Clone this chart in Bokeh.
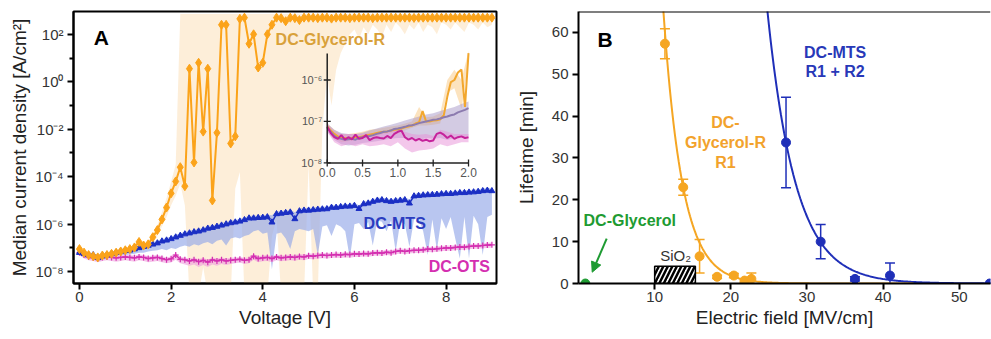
import numpy as np
from bokeh.plotting import figure
from bokeh.layouts import row
from bokeh.models import (Range1d, FixedTicker, CustomJSTickFormatter, LinearScale, LogScale,
                          Whisker, ColumnDataSource, Arrow, NormalHead, Span, TeeHead)
from bokeh.core.properties import value
from bokeh.embed import file_html
from bokeh.resources import INLINE

FONT = "Liberation Sans"

# ---------------- Panel A: log10 of median current density [A/cm^2] vs voltage -------------
voltage = np.round(np.linspace(0.0, 9.0, 91), 2)

glyc_med = [-7.05, -7.2, -7.3, -7.35, -7.4, -7.32, -7.3, -7.25, -7.2, -7.15, -7.1,
            -7.05, -6.98, -6.75, -6.9, -6.85, -6.55, -6.25, -5.8, -5.3, -4.7,
            -4.2, -3.6, -4.4, 0.55, -3.4, 0.8, -2.1, 0.55, -5.0, -2.15,
            2.4, 2.4, -2.6, -2.3, 2.65, 2.7, 1.6, 2.0, 0.6, 0.8,
            2.0, 2.4, 2.7, 2.68, 2.55, 2.7, 2.68, 2.6, 2.7, 2.7,
            2.7, 2.68, 2.7, 2.7, 2.66, 2.7, 2.7, 2.7, 2.68, 2.7,
            2.7, 2.7, 2.7, 2.68, 2.7, 2.7, 2.7, 2.7, 2.7, 2.7,
            2.7, 2.7, 2.69, 2.7, 2.7, 2.7, 2.7, 2.7, 2.7, 2.7,
            2.7, 2.7, 2.7, 2.7, 2.7, 2.7, 2.7, 2.7, 2.7, 2.7]
glyc_hi = [-6.95, -7.1, -7.2, -7.25, -7.3, -7.22, -7.2, -7.15, -7.1, -7.05, -7.0,
           -6.95, -6.88, -6.6, -6.78, -6.7, -6.4, -6.05, -5.5, -4.9, -4.2,
           -3.5, 2.85, 2.85, 2.85, 2.85, 2.85, 2.85, 2.85, 2.85, 2.85,
           2.85, 2.85, 2.85, 2.85, 2.85, 2.85, 2.85, 2.85, 2.85, 2.85,
           2.85, 2.85, 2.85, 2.85, 2.85, 2.85, 2.85, 2.85, 2.85, 2.85,
           2.85, 2.85, 2.85, 2.85, 2.85, 2.85, 2.85, 2.85, 2.85, 2.85,
           2.85, 2.85, 2.85, 2.85, 2.85, 2.85, 2.85, 2.85, 2.85, 2.85,
           2.85, 2.85, 2.85, 2.85, 2.85, 2.85, 2.85, 2.85, 2.85, 2.85,
           2.85, 2.85, 2.85, 2.85, 2.85, 2.85, 2.85, 2.85, 2.85, 2.85]
glyc_lo = [-7.15, -7.3, -7.4, -7.45, -7.5, -7.42, -7.4, -7.35, -7.3, -7.25, -7.2,
           -7.15, -7.08, -6.95, -7.02, -7.0, -6.8, -6.5, -6.1, -5.7, -5.2,
           -4.8, -4.3, -5.2, -9.0, -9.0, -9.0, -7.8, -9.0, -9.0, -9.0,
           -9.0, -9.0, -9.0, -4.5, -3.8, -9.0, -9.0, -9.0, -9.0, -9.0,
           -9.0, -6.5, -5.8, -9.0, -9.0, -9.0, -9.0, -9.0, -9.0, -3.5,
           -9.0, -9.0, -2.0, 0.3, -1.0, 0.5, 1.2, 1.6, 2.0, 2.2,
           1.8, 2.3, 2.0, 2.4, 2.2, 1.9, 2.4, 2.1, 2.5, 2.3,
           2.0, 2.4, 2.2, 2.5, 2.1, 2.4, 2.3, 2.0, 2.5, 2.4,
           2.2, 2.5, 2.3, 2.1, 2.5, 2.4, 2.2, 2.5, 2.3, 2.4]

mts_med = [-7.2, -7.25, -7.3, -7.3, -7.42, -7.35, -7.3, -7.25, -7.2, -7.15, -7.12,
           -7.1, -7.05, -7.0, -6.95, -6.9, -6.85, -6.8, -6.72, -6.68, -6.62,
           -6.55, -6.48, -6.42, -6.38, -6.33, -6.3, -6.25, -6.18, -6.15, -6.1,
           -6.05, -6.0, -5.95, -5.92, -5.88, -5.82, -5.75, -5.75, -5.73, -5.72,
           -5.7, -5.92, -5.57, -5.55, -5.52, -5.5, -5.78, -5.45, -5.42, -5.42,
           -5.4, -5.38, -5.37, -5.36, -5.3, -5.3, -5.27, -5.25, -5.25, -5.22,
           -5.35, -5.15, -5.12, -5.05, -5.0, -4.98, -5.02, -5.05, -5.02, -5.0,
           -4.98, -5.12, -4.82, -4.8, -4.78, -4.77, -4.76, -4.75, -4.73, -4.72,
           -4.72, -4.7, -4.68, -4.68, -4.66, -4.65, -4.63, -4.6, -4.58, -4.6]
mts_hi = [-7.1, -7.15, -7.2, -7.2, -7.3, -7.25, -7.2, -7.15, -7.1, -7.05, -7.02,
          -7.0, -6.95, -6.9, -6.85, -6.8, -6.75, -6.7, -6.62, -6.58, -6.52,
          -6.45, -6.38, -6.32, -6.28, -6.23, -6.2, -6.15, -6.08, -6.05, -6.0,
          -5.95, -5.9, -5.85, -5.82, -5.78, -5.72, -5.65, -5.65, -5.63, -5.62,
          -5.6, -5.62, -5.47, -5.45, -5.42, -5.4, -5.5, -5.35, -5.32, -5.32,
          -5.3, -5.28, -5.27, -5.26, -5.2, -5.2, -5.17, -5.15, -5.15, -5.12,
          -5.2, -5.05, -5.02, -4.95, -4.9, -4.88, -4.92, -4.95, -4.92, -4.9,
          -4.88, -4.95, -4.72, -4.7, -4.68, -4.67, -4.66, -4.65, -4.63, -4.62,
          -4.62, -4.6, -4.58, -4.58, -4.56, -4.55, -4.53, -4.5, -4.48, -4.5]
mts_lo = [-7.3, -7.4, -7.45, -7.45, -7.55, -7.5, -7.45, -7.4, -7.35, -7.3, -7.3,
          -7.28, -7.25, -7.2, -7.2, -7.15, -7.12, -7.1, -7.05, -7.1, -7.0,
          -7.05, -6.95, -6.9, -6.95, -6.85, -6.9, -6.8, -6.75, -6.85, -6.7,
          -6.65, -6.9, -6.6, -6.55, -6.6, -6.5, -6.45, -6.3, -6.25, -6.4,
          -6.35, -7.9, -6.4, -6.35, -6.6, -7.05, -6.3, -6.2, -6.25, -6.3,
          -6.2, -7.3, -6.1, -6.05, -6.5, -6.0, -6.1, -6.3, -7.45, -6.0,
          -5.95, -6.2, -5.9, -6.9, -5.85, -5.9, -6.3, -5.85, -7.15, -5.9,
          -6.0, -6.95, -5.8, -5.75, -6.3, -7.3, -5.8, -7.1, -5.75, -6.2,
          -5.7, -6.6, -7.45, -5.7, -7.45, -5.65, -6.0, -7.3, -5.7, -5.6]

ots_med = [-7.2, -7.3, -7.38, -7.42, -7.45, -7.4, -7.38, -7.4, -7.42, -7.4, -7.38,
           -7.4, -7.42, -7.38, -7.4, -7.45, -7.42, -7.4, -7.45, -7.5, -7.46,
           -7.3, -7.48, -7.5, -7.55, -7.5, -7.58, -7.52, -7.6, -7.5, -7.55,
           -7.5, -7.55, -7.52, -7.5, -7.48, -7.52, -7.5, -7.35, -7.45, -7.42,
           -7.4, -7.45, -7.38, -7.42, -7.4, -7.38, -7.4, -7.36, -7.38, -7.33,
           -7.35, -7.32, -7.3, -7.32, -7.3, -7.28, -7.3, -7.27, -7.28, -7.25,
           -7.26, -7.24, -7.25, -7.22, -7.2, -7.22, -7.18, -7.2, -7.15, -7.12,
           -7.15, -7.12, -7.1, -7.1, -7.08, -7.05, -7.06, -7.04, -7.02, -7.0,
           -7.0, -6.98, -6.96, -6.97, -6.94, -6.92, -6.92, -6.9, -6.88, -6.87]
ots_hi = [-7.1, -7.2, -7.28, -7.32, -7.35, -7.3, -7.28, -7.3, -7.32, -7.3, -7.28,
          -7.3, -7.32, -7.28, -7.3, -7.35, -7.32, -7.3, -7.35, -7.4, -7.36,
          -7.2, -7.38, -7.4, -7.45, -7.4, -7.48, -7.42, -7.5, -7.4, -7.45,
          -7.4, -7.45, -7.42, -7.4, -7.38, -7.42, -7.4, -7.25, -7.35, -7.32,
          -7.3, -7.35, -7.28, -7.32, -7.3, -7.28, -7.3, -7.26, -7.28, -7.23,
          -7.25, -7.22, -7.2, -7.22, -7.2, -7.18, -7.2, -7.17, -7.18, -7.15,
          -7.16, -7.14, -7.15, -7.12, -7.1, -7.12, -7.08, -7.1, -7.05, -7.02,
          -7.05, -7.02, -7.0, -7.0, -6.98, -6.95, -6.96, -6.94, -6.92, -6.9,
          -6.9, -6.88, -6.86, -6.87, -6.84, -6.82, -6.82, -6.8, -6.78, -6.77]
ots_lo = [-7.3, -7.45, -7.52, -7.55, -7.6, -7.55, -7.52, -7.55, -7.58, -7.55, -7.52,
          -7.55, -7.58, -7.52, -7.55, -7.6, -7.58, -7.55, -7.6, -7.65, -7.62,
          -7.5, -7.65, -7.7, -7.75, -7.7, -7.8, -7.72, -7.8, -7.7, -7.75,
          -7.68, -7.72, -7.68, -7.65, -7.62, -7.68, -7.65, -7.5, -7.6, -7.56,
          -7.55, -7.6, -7.52, -7.56, -7.54, -7.52, -7.54, -7.5, -7.52, -7.47,
          -7.48, -7.45, -7.44, -7.45, -7.43, -7.42, -7.43, -7.4, -7.41, -7.38,
          -7.38, -7.36, -7.37, -7.34, -7.32, -7.34, -7.3, -7.32, -7.27, -7.24,
          -7.27, -7.24, -7.22, -7.22, -7.2, -7.17, -7.18, -7.16, -7.14, -7.12,
          -7.12, -7.1, -7.08, -7.09, -7.06, -7.04, -7.04, -7.02, -7.0, -6.99]

# Inset (0-2 V), log10 values
ins_v = np.round(np.linspace(0.0, 2.0, 41), 2)
ins_ots = [-7.13, -7.28, -7.38, -7.42, -7.33, -7.44, -7.38, -7.43, -7.32, -7.42, -7.40,
           -7.33, -7.45, -7.40, -7.38, -7.40, -7.41, -7.35, -7.40, -7.30, -7.25,
           -7.22, -7.38, -7.44, -7.40, -7.46, -7.42, -7.47, -7.44, -7.48, -7.46,
           -7.30, -7.27, -7.32, -7.40, -7.34, -7.42, -7.38, -7.36, -7.40, -7.38]
ins_mts = [-7.15, -7.25, -7.35, -7.40, -7.42, -7.44, -7.43, -7.42, -7.44, -7.40, -7.38,
           -7.36, -7.35, -7.33, -7.30, -7.28, -7.25, -7.24, -7.22, -7.18, -7.17,
           -7.15, -7.13, -7.10, -7.09, -7.07, -7.04, -7.02, -7.00, -6.98, -6.96,
           -6.95, -6.93, -6.90, -6.88, -6.85, -6.83, -6.78, -6.75, -6.72, -6.68]
ins_gly = [-7.12, -7.22, -7.30, -7.36, -7.40, -7.40, -7.42, -7.40, -7.38, -7.38, -7.36,
           -7.34, -7.32, -7.30, -7.28, -7.26, -7.25, -7.24, -7.22, -7.20, -7.19,
           -7.17, -7.14, -7.12, -7.10, -7.05, -7.02, -6.75, -7.00, -7.00, -6.98,
           -6.97, -6.95, -6.85, -6.40, -6.05, -6.00, -5.82, -5.75, -6.65, -5.35]
ins_vb = np.round(np.linspace(0.0, 2.0, 21), 2)
ins_mts_hi = [-7.05, -7.2, -7.28, -7.3, -7.3, -7.27, -7.22, -7.17, -7.12, -7.08, -7.03,
              -6.98, -6.93, -6.88, -6.83, -6.8, -6.75, -6.7, -6.65, -6.58, -6.52]
ins_mts_lo = [-7.25, -7.45, -7.55, -7.58, -7.56, -7.52, -7.5, -7.48, -7.45, -7.42, -7.4,
              -7.4, -7.42, -7.45, -7.4, -7.42, -7.4, -7.45, -7.4, -7.38, -7.35]
ins_ots_hi = [-7.05, -7.25, -7.3, -7.3, -7.3, -7.3, -7.28, -7.3, -7.25, -7.25, -7.2,
              -7.25, -7.3, -7.32, -7.3, -7.35, -7.2, -7.25, -7.3, -7.3, -7.3]
ins_ots_lo = [-7.25, -7.5, -7.6, -7.55, -7.6, -7.55, -7.6, -7.58, -7.55, -7.6, -7.5,
              -7.65, -7.75, -7.7, -7.68, -7.65, -7.55, -7.6, -7.55, -7.5, -7.5]
ins_gly_hi = [-7.05, -7.2, -7.3, -7.3, -7.28, -7.25, -7.2, -7.18, -7.15, -7.12, -7.1,
              -7.05, -7.0, -6.65, -6.9, -6.88, -6.8, -6.0, -5.75, -6.0, -5.3]
ins_gly_lo = [-7.2, -7.4, -7.5, -7.48, -7.45, -7.42, -7.38, -7.35, -7.3, -7.28, -7.25,
              -7.22, -7.15, -7.1, -7.1, -7.08, -7.05, -6.3, -6.2, -6.7, -5.6]
ins_xticks = [0.0, 0.5, 1.0, 1.5, 2.0]
ins_xlabels = ["0.0", "0.5", "1.0", "1.5", "2.0"]
ins_yticks = [1e-8, 1e-7, 1e-6]
ins_ylabels = ["10\u207b\u2078", "10\u207b\u2077", "10\u207b\u2076"]

# ---------------- Panel B: lifetime vs electric field -------------
gly_E = [11.35, 13.75, 15.9, 18.2, 20.4, 21.8, 22.7]
gly_life = [57.3, 23.0, 6.5, 1.6, 1.9, 0.7, 1.1]
gly_err = [3.6, 1.9, 4.0, 0.4, 0.5, 0.4, 1.4]
mts_E = [27.25, 31.8, 36.3, 40.9, 54.0]
mts_life = [33.7, 10.0, 1.1, 1.9, 0.0]
mts_err = [10.8, 4.1, 0.5, 3.0, 0.0]
dcg_E = [0.9]
dcg_life = [0.0]
# exponential fits  lifetime = A * exp(-k * E)
gly_fit_A, gly_fit_k = 5628.0, 0.40
mts_fit_A, mts_fit_k = 52800.0, 0.27
sio2_range = (10.0, 15.35)
sio2_height = 4.1

ORANGE = "#FBA31A"
BLUE = "#1B2FC4"
MAGENTA = "#D42FB0"
GREEN = "#1E9B32"


def J(a):
    return np.power(10.0, np.asarray(a, dtype=float))


def style_axes(p, label_standoff):
    for ax in (p.xaxis, p.yaxis):
        ax.axis_line_color = "black"
        ax.axis_line_width = 2
        ax.major_tick_line_color = "black"
        ax.major_tick_line_width = 2
        ax.minor_tick_line_color = "black"
        ax.minor_tick_line_width = 2
        ax.major_tick_in = 0
        ax.major_tick_out = 6
        ax.minor_tick_in = 0
        ax.minor_tick_out = 4
        ax.major_label_text_font = FONT
        ax.major_label_text_font_size = "15px"
        ax.major_label_text_color = "#333333"
        ax.axis_label_text_font = FONT
        ax.axis_label_text_font_size = "19px"
        ax.axis_label_text_font_style = "normal"
        ax.axis_label_text_color = "#222222"
    p.yaxis.major_label_standoff = 4
    p.xaxis.major_label_standoff = 2
    p.xaxis.axis_label_standoff = 2
    p.yaxis.axis_label_standoff = label_standoff
    p.xgrid.visible = False
    p.ygrid.visible = False
    p.background_fill_color = "white"
    p.border_fill_color = "white"


# ================= Panel A =================
pA = figure(width=505, height=338, y_axis_type="log",
            x_range=Range1d(-0.13, 9.1), y_range=Range1d(10 ** -8.5, 10 ** 2.96),
            output_backend="svg", toolbar_location=None,
            min_border_left=73, min_border_right=9, min_border_top=11, min_border_bottom=53)
style_axes(pA, 2)
pA.outline_line_color = "black"
pA.outline_line_width = 2
pA.outline_line_alpha = 1
pA.xaxis.axis_label = "Voltage [V]"
pA.yaxis.axis_label = "Median current density [A/cm\u00b2]"
pA.xaxis.ticker = FixedTicker(ticks=[0, 2, 4, 6, 8])
pA.yaxis.ticker = FixedTicker(ticks=[10.0 ** k for k in (-8, -6, -4, -2, 0, 2)],
                              minor_ticks=[10.0 ** k for k in (-7, -5, -3, -1, 1)])
pA.yaxis.formatter = CustomJSTickFormatter(code="""
const m = {"-":"\u207b","0":"\u2070","1":"\u00b9","2":"\u00b2","3":"\u00b3","4":"\u2074","5":"\u2075","6":"\u2076","7":"\u2077","8":"\u2078","9":"\u2079"};
const e = Math.round(Math.log10(tick));
return "10" + String(e).split("").map(c => m[c]).join("");
""")

pA.varea(x=voltage, y1=J(glyc_lo), y2=J(glyc_hi), fill_color="#FAD29A", fill_alpha=0.38)
pA.varea(x=voltage, y1=J(mts_lo), y2=J(mts_hi), fill_color="#93A8E8", fill_alpha=0.65)
pA.varea(x=voltage, y1=J(ots_lo), y2=J(ots_hi), fill_color="#EE9EDC", fill_alpha=0.6)

pA.line(voltage, J(ots_med), line_color=MAGENTA, line_width=1.5)
pA.scatter(voltage, J(ots_med), marker="cross", size=6, line_color=MAGENTA, line_width=1.2)
pA.line(voltage, J(mts_med), line_color=BLUE, line_width=1.5)
pA.scatter(voltage, J(mts_med), marker="triangle", size=6, fill_color=BLUE, line_color=BLUE)
pA.line(voltage, J(glyc_med), line_color=ORANGE, line_width=2)
pA.scatter(voltage, J(glyc_med), marker="diamond", size=9, fill_color=ORANGE, line_color=ORANGE)

# inset via extra ranges / scales
pA.extra_x_ranges = {"ins": Range1d(-3.591, 2.396)}
pA.extra_y_ranges = {"ins": Range1d(10 ** -10.91, 10 ** -4.347)}
pA.extra_x_scales = {"ins": LinearScale()}
pA.extra_y_scales = {"ins": LogScale()}
I = dict(x_range_name="ins", y_range_name="ins")
pA.varea(x=ins_vb, y1=J(ins_gly_lo), y2=J(ins_gly_hi), fill_color="#F8C070", fill_alpha=0.45, **I)
pA.varea(x=ins_vb, y1=J(ins_mts_lo), y2=J(ins_mts_hi), fill_color="#A898C8", fill_alpha=0.5, **I)
pA.varea(x=ins_vb, y1=J(ins_ots_lo), y2=J(ins_ots_hi), fill_color="#E890D8", fill_alpha=0.5, **I)
pA.line(ins_v, J(ins_gly), line_color="#F2A72E", line_width=2, **I)
pA.line(ins_v, J(ins_mts), line_color="#8C7BAF", line_width=2, **I)
pA.line(ins_v, J(ins_ots), line_color="#C5229B", line_width=2, **I)
pA.line([0, 0], [1e-8, 10 ** -5.36], line_color="#222222", line_width=1.5, **I)
pA.line([0, 2.0], [1e-8, 1e-8], line_color="#222222", line_width=1.5, **I)
pA.scatter(ins_xticks, [1e-8] * len(ins_xticks), marker="dash", angle=np.pi / 2, size=7,
           line_color="#222222", line_width=1.3, **I)
pA.scatter([0] * len(ins_yticks), ins_yticks, marker="dash", size=7,
           line_color="#222222", line_width=1.3, **I)
pA.text(x=ins_xticks, y=[1e-8] * len(ins_xticks), text=ins_xlabels, text_align="center",
        text_baseline="top", y_offset=5, text_font=value(FONT), text_font_size="12px",
        text_color="#555555", **I)
pA.text(x=[0] * len(ins_yticks), y=ins_yticks, text=ins_ylabels, text_align="right",
        text_baseline="middle", x_offset=-5, text_font=value(FONT), text_font_size="11px",
        text_color="#555555", **I)

pA.text(x=[0.31], y=[10 ** 1.87], text=["A"], text_font=value(FONT), text_font_size="21px",
        text_font_style="bold", text_color="black", text_baseline="middle")
pA.text(x=[4.28], y=[10 ** 1.79], text=["DC-Glycerol-R"], text_font=value(FONT),
        text_font_size="16px", text_font_style="bold", text_color="#D9A13A", text_baseline="middle")
pA.text(x=[6.2], y=[10 ** -5.99], text=["DC-MTS"], text_font=value(FONT),
        text_font_size="16px", text_font_style="bold", text_color="#2B3CC0", text_baseline="middle")
pA.text(x=[7.62], y=[10 ** -7.79], text=["DC-OTS"], text_font=value(FONT),
        text_font_size="16px", text_font_style="bold", text_color="#D42FB0", text_baseline="middle")

# ================= Panel B =================
pB = figure(width=486, height=338, x_range=Range1d(0, 54.1), y_range=Range1d(0, 65),
            output_backend="svg", toolbar_location=None,
            min_border_left=73, min_border_right=1, min_border_top=11, min_border_bottom=55)
style_axes(pB, 12)
pB.outline_line_color = None
pB.xaxis.axis_label = "Electric field [MV/cm]"
pB.yaxis.axis_label = "Lifetime [min]"
pB.xaxis.ticker = FixedTicker(ticks=[10, 20, 30, 40, 50])
pB.yaxis.ticker = FixedTicker(ticks=[0, 10, 20, 30, 40, 50, 60])
pB.add_layout(Span(location=65, dimension="width", line_color="black", line_width=2))

pB.quad(left=[sio2_range[0]], right=[sio2_range[1]], bottom=[0], top=[sio2_height],
        fill_color="white", line_color="black", line_width=1.5,
        hatch_pattern="right_diagonal_line", hatch_color="black", hatch_weight=2.5,
        hatch_scale=9)
pB.text(x=[12.75], y=[6.7], text=["SiO\u2082"], text_font=value(FONT), text_font_size="15px",
        text_color="#333333", text_align="center", text_baseline="middle")

E_mts = np.linspace(24.5, 54.1, 200)
pB.line(E_mts, mts_fit_A * np.exp(-mts_fit_k * E_mts), line_color="#1F2FB8", line_width=2)
E_gly = np.linspace(11.0, 44.0, 200)
pB.line(E_gly, gly_fit_A * np.exp(-gly_fit_k * E_gly), line_color="#F5A623", line_width=2)

src_g = ColumnDataSource(dict(x=gly_E, lo=np.array(gly_life) - np.array(gly_err),
                              hi=np.array(gly_life) + np.array(gly_err)))
pB.add_layout(Whisker(source=src_g, base="x", lower="lo", upper="hi", line_color="#F5A623",
                      line_width=1.5,
                      upper_head=TeeHead(size=10, line_color="#F5A623", line_width=1.5),
                      lower_head=TeeHead(size=10, line_color="#F5A623", line_width=1.5)))
src_m = ColumnDataSource(dict(x=mts_E, lo=np.array(mts_life) - np.array(mts_err),
                              hi=np.array(mts_life) + np.array(mts_err)))
pB.add_layout(Whisker(source=src_m, base="x", lower="lo", upper="hi", line_color="#1F2FB8",
                      line_width=1.5,
                      upper_head=TeeHead(size=10, line_color="#1F2FB8", line_width=1.5),
                      lower_head=TeeHead(size=10, line_color="#1F2FB8", line_width=1.5)))
pB.scatter(gly_E, gly_life, size=9, fill_color="#F5A623", line_color="#F5A623")
pB.scatter(mts_E, mts_life, size=9, fill_color="#1F2FB8", line_color="#1F2FB8")
pB.scatter(dcg_E, dcg_life, size=9, fill_color=GREEN, line_color=GREEN)

pB.add_layout(Arrow(end=NormalHead(size=10, fill_color=GREEN, line_color=GREEN),
                    x_start=3.7, y_start=10.7, x_end=1.8, y_end=2.7,
                    line_color=GREEN, line_width=2))

pB.text(x=[2.5], y=[58.4], text=["B"], text_font=value(FONT), text_font_size="21px",
        text_font_style="bold", text_color="black", text_baseline="middle")
pB.text(x=[0.66], y=[15.1], text=["DC-Glycerol"], text_font=value(FONT), text_font_size="16px",
        text_font_style="bold", text_color=GREEN, text_baseline="middle")
pB.text(x=[19.3], y=[33.7], text=["DC-\nGlycerol-R\nR1"], text_font=value(FONT),
        text_font_size="16px", text_font_style="bold", text_color="#F2A22C",
        text_align="center", text_baseline="middle", text_line_height=1.15)
pB.text(x=[33.7], y=[52.9], text=["DC-MTS\nR1 + R2"], text_font=value(FONT),
        text_font_size="16px", text_font_style="bold", text_color="#2838B8",
        text_align="center", text_baseline="middle", text_line_height=1.15)

layout = row(pA, pB)
open("out.html", "w", encoding="utf-8").write(file_html(layout, INLINE))
